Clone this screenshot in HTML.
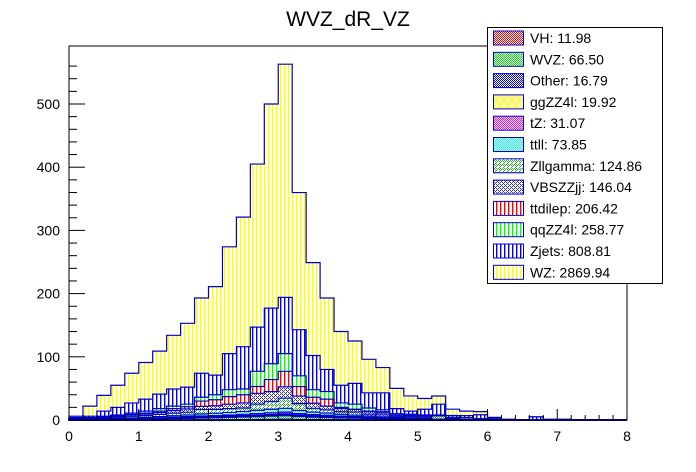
<!DOCTYPE html>
<html><head><meta charset="utf-8"><style>
html,body{margin:0;padding:0;background:#fff;}
svg{display:block;font-family:"Liberation Sans",Arial,sans-serif;}
</style></head><body>
<svg id="chart" width="696" height="472" viewBox="0 0 696 472" xmlns="http://www.w3.org/2000/svg">
<defs>
<pattern id="p-vert-yellow" width="4" height="4" patternUnits="userSpaceOnUse"><rect width="4" height="4" fill="#fff"/><rect x="0" width="1.4" height="4" fill="#ffff00"/></pattern>
<pattern id="p-vert-blue" width="4" height="4" patternUnits="userSpaceOnUse"><rect width="4" height="4" fill="#fff"/><rect x="0" width="1.4" height="4" fill="#0000ff"/></pattern>
<pattern id="p-vert-green" width="4" height="4" patternUnits="userSpaceOnUse"><rect width="4" height="4" fill="#fff"/><rect x="0" width="1.4" height="4" fill="#00ff00"/></pattern>
<pattern id="p-vert-red" width="4" height="4" patternUnits="userSpaceOnUse"><rect width="4" height="4" fill="#fff"/><rect x="0" width="1.4" height="4" fill="#ff0000"/></pattern>
<pattern id="p-chk-red" width="2" height="2" patternUnits="userSpaceOnUse"><rect width="2" height="2" fill="#fff"/><rect width="1" height="1" fill="#ff0000"/><rect x="1" y="1" width="1" height="1" fill="#ff0000"/></pattern>
<pattern id="p-chk-green" width="2" height="2" patternUnits="userSpaceOnUse"><rect width="2" height="2" fill="#fff"/><rect width="1" height="1" fill="#00dd00"/><rect x="1" y="1" width="1" height="1" fill="#00dd00"/></pattern>
<pattern id="p-chk-blue" width="2" height="2" patternUnits="userSpaceOnUse"><rect width="2" height="2" fill="#fff"/><rect width="1" height="1" fill="#0000ff"/><rect x="1" y="1" width="1" height="1" fill="#0000ff"/></pattern>
<pattern id="p-chk-yellow" width="2" height="2" patternUnits="userSpaceOnUse"><rect width="2" height="2" fill="#fff"/><rect width="1" height="1" fill="#ffff00"/><rect x="1" y="1" width="1" height="1" fill="#ffff00"/></pattern>
<pattern id="p-chk-magenta" width="2" height="2" patternUnits="userSpaceOnUse"><rect width="2" height="2" fill="#fff"/><rect width="1" height="1" fill="#ff00ff"/><rect x="1" y="1" width="1" height="1" fill="#ff00ff"/></pattern>
<pattern id="p-chk-cyan" width="2" height="2" patternUnits="userSpaceOnUse"><rect width="2" height="2" fill="#fff"/><rect width="1" height="1" fill="#00ffff"/><rect x="1" y="1" width="1" height="1" fill="#00ffff"/></pattern>
<pattern id="p-chk-dgreen" width="4" height="4" patternUnits="userSpaceOnUse"><rect width="4" height="4" fill="#fff"/><rect width="1" height="1" fill="#33aa33"/><rect x="2" y="0" width="1" height="1" fill="#33aa33"/><rect x="1" y="1" width="1" height="1" fill="#33aa33"/><rect x="3" y="1" width="1" height="1" fill="#33aa33"/><rect x="0" y="2" width="1" height="1" fill="#33aa33"/><rect x="3" y="3" width="1" height="1" fill="#33aa33"/></pattern>
<pattern id="p-chk-navy" width="4" height="4" patternUnits="userSpaceOnUse"><rect width="4" height="4" fill="#fff"/><rect width="1" height="1" fill="#3333bb"/><rect x="2" y="0" width="1" height="1" fill="#3333bb"/><rect x="1" y="1" width="1" height="1" fill="#3333bb"/><rect x="0" y="2" width="1" height="1" fill="#3333bb"/><rect x="2" y="2" width="1" height="1" fill="#3333bb"/><rect x="3" y="3" width="1" height="1" fill="#3333bb"/></pattern>
</defs>
<text x="348" y="26" text-anchor="middle" font-size="21">WVZ_dR_VZ</text>
<g id="hists"></g>
<g id="axes"></g>
<g id="legend"></g>
</svg>
<script>
const binEdges0 = 0, binWidth = 0.2, nBins = 40;
const seriesNames = ["VH","WVZ","Other","ggZZ4l","tZ","ttll","Zllgamma","VBSZZjj","ttdilep","qqZZ4l","Zjets","WZ"];
const legendLabels = ["VH: 11.98","WVZ: 66.50","Other: 16.79","ggZZ4l: 19.92","tZ: 31.07","ttll: 73.85","Zllgamma: 124.86","VBSZZjj: 146.04","ttdilep: 206.42","qqZZ4l: 258.77","Zjets: 808.81","WZ: 2869.94"];
const VH = [0,0,0,0,0,0,0.2,0.3,0.3,0.4,0.5,0.6,0.7,0.8,1,1.2,0.9,0.8,0.7,0.6,0.5,0.4,0.3,0.3,0.2,0.2,0.1,0.1,0,0,0,0,0,0,0,0,0,0,0,0];
const WVZ = [0.2,0.3,0.5,0.7,1,1.2,1.5,2,2.3,2.8,3,3.5,4,4.5,5,5.5,4.5,3.8,3.3,2.8,2.4,2,1.6,1.3,1,0.8,0.6,0.5,0.3,0.2,0.1,0,0,0,0,0,0,0,0,0];
const Other = [0,0,0.1,0.2,0.3,0.4,0.5,0.6,0.7,0.8,0.9,1,1.1,1.2,1.3,1.4,1.1,0.9,0.8,0.6,0.5,0.4,0.3,0.2,0.2,0.1,0,0,0,0,0,0,0,0,0,0,0,0,0,0];
const ggZZ4l = [0,0.1,0.2,0.3,0.4,0.5,0.6,0.7,0.8,0.9,1,1.1,1.2,1.4,1.5,1.6,1.4,1.2,1.1,0.9,0.8,0.6,0.5,0.4,0.3,0.2,0.1,0.1,0,0,0,0,0,0,0,0,0,0,0,0];
const tZ = [0,0.1,0.2,0.3,0.5,0.6,0.8,1,1.2,1.4,1.6,1.8,2,2.3,2.6,2.8,2.2,1.8,1.6,1.3,1.1,0.9,0.7,0.5,0.4,0.3,0.2,0.1,0,0,0,0,0,0,0,0,0,0,0,0];
const ttll = [0.1,0.3,0.5,0.8,1.1,1.4,1.8,2.2,2.6,3.2,3.6,4,4.5,5,5.6,6,4.8,4,3.5,2.8,2.4,2,1.6,1.2,1,0.8,0.5,0.3,0.2,0.1,0,0,0,0,0,0,0,0,0,0];
const Zllgamma = [0.5,1,1.5,2,2.5,3,3.5,4,4.5,7,6,6,5.5,10,12,16,11,6,5,4,5,3,3,2,2,2,5,1,0.5,0,0,0,0,0,0,0,0,0,0,0];
const VBSZZjj = [0.2,0.5,1,1.5,2,2.5,3,4,5,5,6,7,8,17,16,18,12,8,6,5,4,4,3,2,2,2,1,1,0.5,0,0,0,0,0,0,0,0,0,0,0];
const ttdilep = [1,0.7,1,1.2,1.2,1.4,2.1,3.2,3.6,8.5,9.4,12,13,10.8,19,24.5,15,9.5,11,2,0.3,0.7,2,0.1,0,0.6,0,0,0,0,0,0,0,0,0,0,0,0,0,0];
const qqZZ4l = [1,1,1,1,2,3,4,4,4,6,8,11,9,24,25,28,17,12,12,7,8,5,3,2,2,1,0.5,1,2.5,2,1.9,0,0,0,0,0,0,0,0,0];
const Zjets = [1,2,8,12,16,19,23,27,27,38,31,57,67,70,88,89,73,54,35,28,33,24,27,8,5,9,17,3,3,6,2,1,0.5,5,1,1,0,0,0,0];
const WZ = [2,16,25,35,47,58,68,85,101,119,140,169,205,258,323,369,217,147,113,85,67,53,40,32,24,17,13,10,7,5,0,0,0,0,0,0,0,0,0,0];
const xTickLabels = ["0","1","2","3","4","5","6","7","8"];
const yTickLabels = ["0","100","200","300","400","500"];

const seriesData = [VH,WVZ,Other,ggZZ4l,tZ,ttll,Zllgamma,VBSZZjj,ttdilep,qqZZ4l,Zjets,WZ];
const fills = ["p-chk-red","p-chk-green","p-chk-blue","p-chk-yellow","p-chk-magenta","p-chk-cyan","p-chk-dgreen","p-chk-navy","p-vert-red","p-vert-green","p-vert-blue","p-vert-yellow"];
const NS="http://www.w3.org/2000/svg";
const X0=69,X1=627,Y0=420,YTOP=46;
const xs = v => X0 + (v-0)/8*(X1-X0);
const ys = v => Y0 - v*(316/500);

const hists=document.getElementById('hists');
const cum=new Array(nBins).fill(0);
const tops=[];
seriesData.forEach(arr=>{for(let i=0;i<nBins;i++)cum[i]+=arr[i]||0; tops.push(cum.slice());});
for(let s=seriesData.length-1;s>=0;s--){
  const t=tops[s];
  let d="M"+xs(0)+","+Y0;
  for(let i=0;i<nBins;i++){
    const xa=xs(binEdges0+i*binWidth), xb=xs(binEdges0+(i+1)*binWidth);
    d+=" L"+xa+","+ys(t[i])+" L"+xb+","+ys(t[i]);
  }
  d+=" L"+xs(8)+","+Y0+" Z";
  const p=document.createElementNS(NS,'path');
  p.setAttribute('d',d);
  p.setAttribute('fill','url(#'+fills[s]+')');
  p.setAttribute('stroke','#0000cc');
  p.setAttribute('stroke-width','1.2');
  
  
  hists.appendChild(p);
}

const axes=document.getElementById('axes');
function line(x1,y1,x2,y2,w){const l=document.createElementNS(NS,'line');l.setAttribute('x1',x1);l.setAttribute('y1',y1);l.setAttribute('x2',x2);l.setAttribute('y2',y2);l.setAttribute('stroke','#000');l.setAttribute('stroke-width',w||1);axes.appendChild(l);return l;}
const frame=document.createElementNS(NS,'rect');
frame.setAttribute('x',X0);frame.setAttribute('y',YTOP);frame.setAttribute('width',X1-X0);frame.setAttribute('height',Y0-YTOP);
frame.setAttribute('fill','none');frame.setAttribute('stroke','#000');


axes.appendChild(frame);
for(let i=0;i<=40;i++){const v=i*0.2;const len=(i%5===0)?11:5;line(xs(v),Y0,xs(v),Y0-len);}
xTickLabels.forEach((lab,i)=>{const t=document.createElementNS(NS,'text');t.setAttribute('x',xs(i));t.setAttribute('y',441);t.setAttribute('text-anchor','middle');t.setAttribute('font-size','14');t.textContent=lab;


axes.appendChild(t);});
for(let v=0;v<=560;v+=20){const len=(v%100===0)?16:8;line(X0,ys(v),X0+len,ys(v));}
yTickLabels.forEach((lab,i)=>{const t=document.createElementNS(NS,'text');t.setAttribute('x',60);t.setAttribute('y',ys(i*100)+5);t.setAttribute('text-anchor','end');t.setAttribute('font-size','14');t.textContent=lab;


axes.appendChild(t);});

const leg=document.getElementById('legend');
const lb=document.createElementNS(NS,'rect');
lb.setAttribute('x',487.5);lb.setAttribute('y',27.5);lb.setAttribute('width',175);lb.setAttribute('height',256);lb.setAttribute('fill','#fff');lb.setAttribute('stroke','#000');


leg.appendChild(lb);
legendLabels.forEach((lab,i)=>{
  const cy=38+i*21.3;
  const g=document.createElementNS(NS,'g');
  
  
  const r=document.createElementNS(NS,'rect');
  r.setAttribute('x',493.5);r.setAttribute('y',cy-7);r.setAttribute('width',30);r.setAttribute('height',14);
  r.setAttribute('fill','url(#'+fills[i]+')');r.setAttribute('stroke','#0000cc');
  g.appendChild(r);
  const t=document.createElementNS(NS,'text');
  t.setAttribute('x',530);t.setAttribute('y',cy+5);t.setAttribute('font-size','14');t.textContent=lab;
  g.appendChild(t);
  leg.appendChild(g);
});
</script>
</body></html>
